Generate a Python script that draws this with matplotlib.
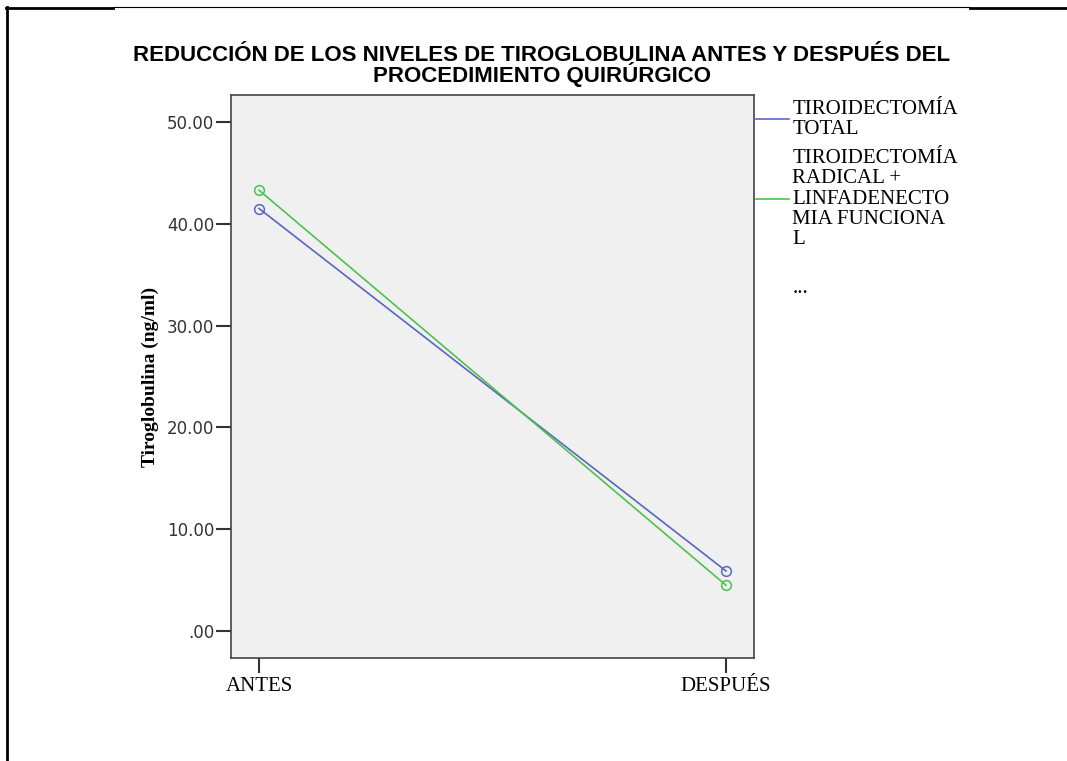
import matplotlib
matplotlib.use("Agg")
import matplotlib.pyplot as plt
from matplotlib.lines import Line2D

# Data
categories = ["ANTES", "DESPUÉS"]
series_names = ["TIROIDECTOMÍA\nTOTAL",
                "TIROIDECTOMÍA\nRADICAL +\nLINFADENECTO\nMIA FUNCIONA\nL"]
total_values = [41.5, 5.9]
radical_values = [43.3, 4.5]
yticks = [0, 10, 20, 30, 40, 50]
ytick_labels = [".00", "10.00", "20.00", "30.00", "40.00", "50.00"]

W, H = 1067, 761
fig = plt.figure(figsize=(W / 100, H / 100), dpi=100)
fig.patch.set_facecolor("white")

# frame lines of the original screenshot
fig.add_artist(Line2D([7 / W, 7 / W], [0, 1 - 7 / H], color="black", lw=2))
fig.add_artist(Line2D([6 / W, 113 / W], [1 - 7.5 / H, 1 - 7.5 / H], color="black", lw=2))
fig.add_artist(Line2D([113 / W, 970 / W], [1 - 7 / H, 1 - 7 / H], color="black", lw=0.8))
fig.add_artist(Line2D([970 / W, 1], [1 - 7.5 / H, 1 - 7.5 / H], color="black", lw=2))

left, right, top, bottom = 231, 754, 95, 658
ax = fig.add_axes([left / W, 1 - bottom / H, (right - left) / W, (bottom - top) / H])
ax.set_facecolor("#f0f0f0")

x = list(range(len(categories)))
blue = "#5767c0"
green = "#4cc24c"
l1, = ax.plot(x, total_values, color=blue, lw=1.2, marker="o", markersize=7,
              markerfacecolor="none", markeredgecolor=blue, markeredgewidth=1.1)
l2, = ax.plot(x, radical_values, color=green, lw=1.2, marker="o", markersize=7,
              markerfacecolor="none", markeredgecolor=green, markeredgewidth=1.1)

ax.set_xlim(-0.06, 1.06)
ax.set_ylim(-2.65, 52.65)
ax.set_xticks(x)
ax.set_xticklabels(categories, fontfamily="Liberation Serif", fontsize=15)
ax.set_yticks(yticks)
ax.set_yticklabels(ytick_labels, fontfamily="DejaVu Sans", fontsize=12, color="#333333")
ax.tick_params(axis="both", length=11, width=1.5, color="#333333")
ax.tick_params(axis="y", pad=1)
ax.tick_params(axis="x", pad=3)
for s in ax.spines.values():
    s.set_color("#444444")
    s.set_linewidth(1.2)

ax.set_ylabel("Tiroglobulina (ng/ml)", fontfamily="Liberation Serif",
              fontweight="bold", fontsize=14, labelpad=6)

fig.text(542 / W, 1 - 66 / H,
         "REDUCCIÓN DE LOS NIVELES DE TIROGLOBULINA ANTES Y DESPUÉS DEL\nPROCEDIMIENTO QUIRÚRGICO",
         ha="center", va="center", fontfamily="Liberation Sans", fontweight="bold",
         fontsize=16, linespacing=0.77)

dummy = Line2D([], [], color="none")
leg = ax.legend([l1, l2, dummy], series_names + ["\n..."],
                loc="upper left", bbox_to_anchor=(1.0 + 2 / 523, 0.991),
                frameon=False, handlelength=1.6, handletextpad=0.15,
                labelspacing=0.45, borderaxespad=0.0, borderpad=0.0,
                prop={"family": "Liberation Serif", "size": 15})
for t in leg.get_texts():
    t.set_linespacing(1.1)
for h in leg.legend_handles[:2]:
    h.set_marker("")

fig.savefig("out.png", dpi=100, facecolor="white")
